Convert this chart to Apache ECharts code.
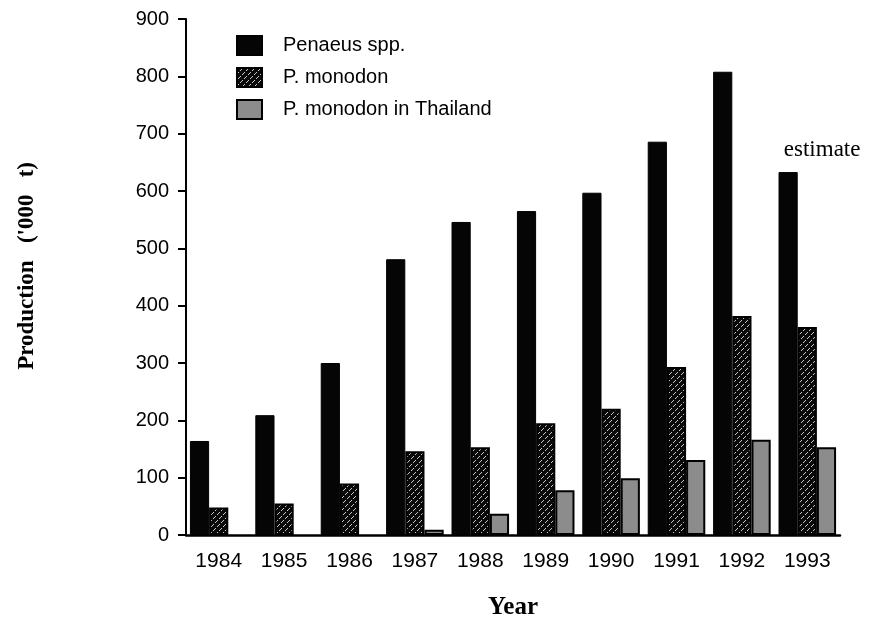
<!DOCTYPE html>
<html>
<head>
<meta charset="utf-8">
<script src="https://cdn.jsdelivr.net/npm/echarts@6/dist/echarts.min.js"></script>
<style>
  html, body { margin: 0; padding: 0; background: #fff; }
  #chart { width: 873px; height: 618px; }
</style>
</head>
<body>
<div id="chart"></div>
<script>
var years = ["1984", "1985", "1986", "1987", "1988", "1989", "1990", "1991", "1992", "1993"];
var penaeus = [164, 209, 300, 481, 546, 565, 597, 686, 808, 633];
var monodon = [48, 55, 90, 146, 153, 195, 220, 293, 382, 363];
var monodonThai = [0, 0, 0, 9, 37, 78, 99, 131, 166, 153];
var yTicks = [0, 100, 200, 300, 400, 500, 600, 700, 800, 900];

// hatch fill: black with light dashed "/" diagonals
function hatchPattern() {
  var s = 6;
  var c = document.createElement("canvas");
  c.width = s;
  c.height = s * 2;
  var ctx = c.getContext("2d");
  ctx.fillStyle = "#0a0a0a";
  ctx.fillRect(0, 0, s, s * 2);
  ctx.fillStyle = "#c8c8c8";
  for (var i = 0; i < s * 2; i++) {
    if (i % 4 === 3) continue; // gaps make the lines dashed
    ctx.fillRect((s * 2 - 1 - i) % s, i, 1, 1);
  }
  return { image: c, repeat: "repeat" };
}

var chart = echarts.init(document.getElementById("chart"));
var sansFont = "Liberation Sans, Arial, sans-serif";
var serifFont = "Liberation Serif, Times New Roman, serif";

chart.setOption({
  animation: false,
  backgroundColor: "#fff",
  grid: { left: 186, right: 33, top: 19, bottom: 83, outerBoundsMode: "none", containLabel: false },
  legend: {
    orient: "vertical",
    left: 236,
    top: 35,
    padding: 0,
    icon: "rect",
    itemWidth: 25,
    itemHeight: 19,
    itemGap: 11,
    textStyle: { fontFamily: sansFont, fontSize: 20, color: "#000", padding: [0, 0, 0, 16] },
    data: ["Penaeus spp.", "P. monodon", "P. monodon in Thailand"]
  },
  graphic: [
    {
      type: "text",
      left: 16,
      top: 162,
      rotation: Math.PI / 2,
      style: {
        text: "Production   ('000   t)",
        font: "bold 23px " + serifFont,
        fill: "#000"
      }
    }
  ],
  xAxis: {
    type: "category",
    data: years,
    name: "Year",
    nameLocation: "middle",
    nameGap: 60,
    nameTextStyle: { fontFamily: serifFont, fontWeight: "bold", fontSize: 25, color: "#000" },
    axisLine: { lineStyle: { color: "#000", width: 2.5 } },
    axisTick: { length: 7, lineStyle: { color: "#000", width: 2 } },
    axisLabel: { margin: 16, fontFamily: sansFont, fontSize: 21, color: "#000" }
  },
  yAxis: {
    type: "value",
    min: 0,
    max: 900,
    interval: 100,
    splitLine: { show: false },
    axisLine: { show: true, lineStyle: { color: "#000", width: 2 } },
    axisTick: { show: true, length: 8, lineStyle: { color: "#000", width: 2 } },
    axisLabel: {
      margin: 17,
      fontFamily: sansFont,
      fontSize: 20,
      color: "#000",
      formatter: function (v) { return yTicks.indexOf(v) >= 0 ? String(v) : ""; }
    }
  },
  series: [
    {
      name: "Penaeus spp.",
      type: "bar",
      barGap: "0%",
      barCategoryGap: "12%",
      itemStyle: { color: "#050505", borderColor: "#000", borderWidth: 1 },
      data: penaeus.map(function (v, i) {
        if (i === years.length - 1) {
          return {
            value: v,
            label: {
              show: true,
              position: "top",
              offset: [34, -6],
              formatter: "estimate",
              fontFamily: serifFont,
              fontSize: 23,
              color: "#000"
            }
          };
        }
        return v;
      })
    },
    {
      name: "P. monodon",
      type: "bar",
      itemStyle: { color: hatchPattern(), borderColor: "#000", borderWidth: 2 },
      data: monodon
    },
    {
      name: "P. monodon in Thailand",
      type: "bar",
      itemStyle: { color: "#8c8c8c", borderColor: "#000", borderWidth: 2 },
      data: monodonThai.map(function (v) { return v === 0 ? null : v; })
    }
  ]
});
</script>
</body>
</html>
